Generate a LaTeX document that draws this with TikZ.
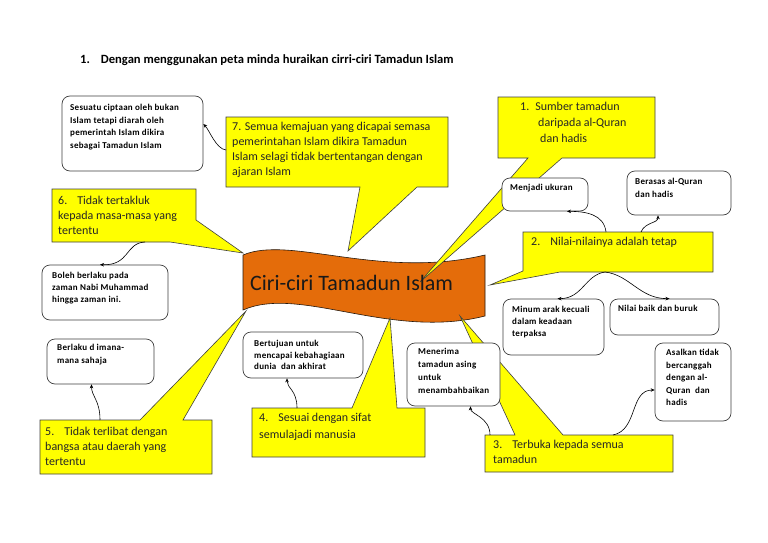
\documentclass[tikz,border=0pt]{standalone}
\usepackage{fontspec}
\setmainfont{Carlito}
\newfontfamily\boxfont{Carlito}[LetterSpace=3.0]
\usetikzlibrary{arrows.meta}
\definecolor{cyellow}{HTML}{FFFF00}
\definecolor{corange}{HTML}{E46C0A}
\begin{document}
\begin{tikzpicture}[x=1pt,y=-1pt,
 callout/.style={fill=cyellow, draw=black!75, line width=0.6pt, line join=miter},
 wbox/.style={draw=black!75, line width=0.7pt, rounded corners=8pt, fill=white, inner sep=0pt},
 ctext/.style={anchor=north west, inner sep=0pt, align=left, font=\fontsize{12}{15}\selectfont, text=black!85},
 btext/.style={anchor=north west, inner sep=0pt, align=left, font=\boxfont\bfseries\fontsize{9}{12.5}\selectfont},
 conn/.style={draw=black, line width=0.6pt, -{Stealth[length=4pt,width=3.5pt]}}
]
\fill[white] (0,0) rectangle (768,543);
\useasboundingbox (0,0) rectangle (768,543);

% title
\node[anchor=west, inner sep=0pt, font=\bfseries\fontsize{12.6}{14}\selectfont] (title) at (80,60) {1.\hspace{11pt}Dengan menggunakan peta minda huraikan cirri-ciri Tamadun Islam};

% central banner
\draw[fill=corange, draw=black!80!brown, line width=0.6pt] (243,255) .. controls (290,235) and (380,280) .. (485,255) -- (485,316) .. controls (390,340) and (300,285) .. (243,310) -- cycle;

% callouts
\draw[callout] (226,117) -- (448,117) -- (448,187) -- (417,187) -- (348,251) -- (360,187) -- (226,187) -- cycle;
\draw[callout] (498,97) -- (655,97) -- (655,158) -- (562,158) -- (420,282) -- (528,158) -- (498,158) -- cycle;
\draw[callout] (523,232) -- (713,232) -- (713,272) -- (560,272) -- (490,285) -- (523,271) -- cycle;
\draw[callout] (52,189) -- (196,189) -- (196,220) -- (243,253) -- (170,242) -- (52,242) -- cycle;
\draw[callout] (40,420) -- (140,420) -- (246,311) -- (183,420) -- (212,420) -- (212,474) -- (40,474) -- cycle;
\draw[callout] (252,408) -- (352,408) -- (390,318) -- (397,408) -- (425,408) -- (425,457) -- (252,457) -- cycle;
\draw[callout] (485,435) -- (515,435) -- (460,316) -- (563,435) -- (673,435) -- (673,472) -- (485,472) -- cycle;

\node[anchor=west, inner sep=0pt, font=\fontsize{22}{26}\selectfont, text=black!90] (central) at (250,283) {Ciri-ciri Tamadun Islam};

% callout texts
\node[ctext] (t7) at (232,122) {7. Semua kemajuan yang dicapai semasa\\pemerintahan Islam dikira Tamadun\\Islam selagi tidak bertentangan dengan\\ajaran Islam};
\node[ctext, font=\fontsize{12}{16}\selectfont] (t1) at (520,102) {1.\hspace{6pt}Sumber tamadun\\\hspace*{18pt}daripada al-Quran\\\hspace*{20pt}dan hadis};
\node[ctext] (t2) at (531,237) {2.\hspace{10pt}Nilai-nilainya adalah tetap};
\node[ctext] (t6) at (58,196) {6.\hspace{10pt}Tidak tertakluk\\kepada masa-masa yang\\tertentu};
\node[ctext] (t5) at (45,427) {5.\hspace{10pt}Tidak terlibat dengan\\bangsa atau daerah yang\\tertentu};
\node[ctext, font=\fontsize{12}{17}\selectfont] (t4) at (259,413) {4.\hspace{10pt}Sesuai dengan sifat\\semulajadi manusia};
\node[ctext] (t3) at (493,440) {3.\hspace{10pt}Terbuka kepada semua\\tamadun};

% white boxes
\node[wbox, minimum width=141pt, minimum height=75pt] (A) at (132.5,133.5) {};
\node[wbox, minimum width=86pt, minimum height=33pt] (B) at (545,194.5) {};
\node[wbox, minimum width=104pt, minimum height=44pt] (C) at (679,193) {};
\node[wbox, minimum width=126pt, minimum height=55pt] (D) at (105,292.5) {};
\node[wbox, minimum width=101pt, minimum height=56pt] (E) at (553.5,327) {};
\node[wbox, minimum width=109pt, minimum height=36pt] (F) at (664.5,317) {};
\node[wbox, minimum width=107pt, minimum height=45pt] (G) at (100.5,361.5) {};
\node[wbox, minimum width=120pt, minimum height=46pt] (H) at (303,355) {};
\node[wbox, minimum width=93pt, minimum height=63pt] (I) at (453.5,374.5) {};
\node[wbox, minimum width=76pt, minimum height=78pt] (J) at (693,382) {};

\node[btext] (tA) at (70,104) {Sesuatu ciptaan oleh bukan\\Islam tetapi diarah oleh\\pemerintah Islam dikira\\sebagai Tamadun Islam};
\node[btext] (tB) at (510,184) {Menjadi ukuran};
\node[btext] (tC) at (635,178) {Berasas al-Quran\\dan hadis};
\node[btext, font=\boxfont\bfseries\fontsize{9}{12}\selectfont] (tD) at (52,272) {Boleh berlaku pada\\zaman Nabi Muhammad\\hingga zaman ini.};
\node[btext, font=\boxfont\bfseries\fontsize{9}{12}\selectfont] (tE) at (512,306) {Minum arak kecuali\\dalam keadaan\\terpaksa};
\node[btext] (tF) at (618,305) {Nilai baik dan buruk};
\node[btext, font=\boxfont\bfseries\fontsize{9}{13}\selectfont] (tG) at (57,344) {Berlaku d imana-\\mana sahaja};
\node[btext, font=\boxfont\bfseries\fontsize{9}{11.5}\selectfont] (tH) at (254,340) {Bertujuan untuk\\mencapai kebahagiaan\\dunia\ \ dan akhirat};
\node[btext, font=\boxfont\bfseries\fontsize{9}{13}\selectfont] (tI) at (418,348) {Menerima\\tamadun asing\\untuk\\menambahbaikan};
\node[btext] (tJ) at (666,349) {Asalkan tidak\\bercanggah\\dengan al-\\Quran\ \ dan\\hadis};

% connector start points on callouts
\coordinate (k7) at (226,150);
\coordinate (k6) at (145,242);
\coordinate (k2a) at (606,232);
\coordinate (k2b) at (641,232);
\coordinate (k2c) at (605,272);
\coordinate (k5) at (100,420);
\coordinate (k4) at (297,408);
\coordinate (k3a) at (490,435);
\coordinate (k3b) at (613,435);

% connectors
\draw[conn] (k7) .. controls +(-10,-1) and +(6,6) .. ([yshift=9.5pt]A.east);
\draw[conn] (k6) .. controls +(-20,1) and +(30,1) .. ([xshift=-5pt]D.north);
\draw[conn] (k2a) .. controls +(-2,-18) and +(18,0) .. ([xshift=22pt]B.south);
\draw[conn] (k2b) .. controls +(4,-10) and +(0,8) .. ([xshift=-21pt]C.south);
\draw[conn] (k2c) .. controls +(-20,3) and +(25,0) .. ([xshift=4pt]E.north);
\draw[conn] (k2c) .. controls +(25,3) and +(-30,0) .. ([xshift=5pt]F.north);
\draw[conn] (k5) .. controls +(0,-20) and +(0,12) .. ([xshift=-9pt]G.south);
\draw[conn] (k4) .. controls +(0,-18) and +(0,10) .. ([xshift=-16pt]H.south);
\draw[conn] (k3a) .. controls +(0,-18) and +(0,8) .. ([xshift=17pt]I.south);
\draw[conn] (k3b) .. controls +(25,-5) and +(-25,0) .. ([yshift=-8pt]J.west);
\end{tikzpicture}
\end{document}
